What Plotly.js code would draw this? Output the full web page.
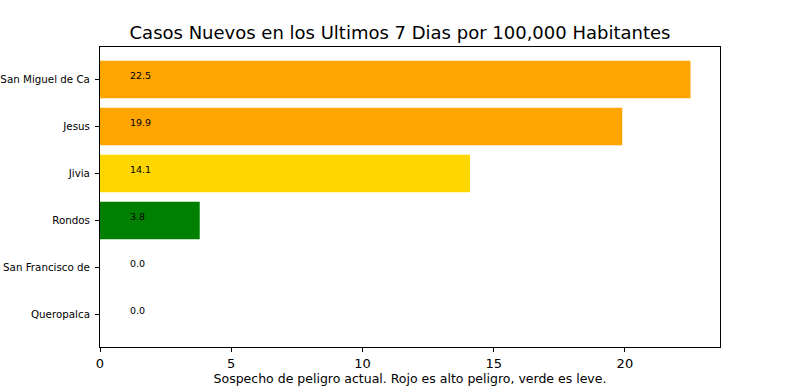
<!DOCTYPE html>
<html>
<head>
<meta charset="utf-8">
<script src="https://cdn.plot.ly/plotly-3.0.1.min.js"></script>
<style>html,body{margin:0;padding:0;background:#fff}#chart{width:800px;height:390px}</style>
</head>
<body>
<div id="chart"></div>
<script>
const categories = ["San Miguel de Ca", "Jesus", "Jivia", "Rondos", "San Francisco de", "Queropalca"];
const values = [22.5, 19.9, 14.1, 3.8, 0.0, 0.0];
const barColors = ["#FFA500", "#FFA500", "#FFD700", "#008000", "#008000", "#008000"];
const xTicks = [0, 5, 10, 15, 20];

const n = categories.length;
const yPos = categories.map((_, i) => n - 1 - i);

const trace = {
  type: "bar",
  orientation: "h",
  x: values,
  y: yPos,
  width: 0.8,
  marker: {color: barColors, line: {width: 0}},
  hoverinfo: "none"
};

const annotations = values.map((v, i) => ({
  x: 1.08, y: yPos[i], xref: "x", yref: "y",
  text: v.toFixed(1), showarrow: false,
  xanchor: "left", yanchor: "middle", yshift: 4,
  font: {family: "DejaVu Sans", size: 9.5, color: "#000"}
}));

const maxV = Math.max(...values);
const layout = {
  width: 800, height: 390,
  margin: {l: 100, r: 80, t: 47, b: 43},
  paper_bgcolor: "#fff", plot_bgcolor: "#fff",
  showlegend: false,
  font: {family: "DejaVu Sans", color: "#000"},
  title: {text: "Casos Nuevos en los Ultimos 7 Dias por 100,000 Habitantes",
          font: {family: "DejaVu Sans", size: 18, color: "#000"},
          x: 0.5, xanchor: "center", y: 0.915, yanchor: "middle"},
  xaxis: {
    range: [0, maxV * 1.05],
    tickvals: xTicks, ticktext: xTicks.map(String),
    ticks: "outside", ticklen: 4, tickwidth: 1, tickcolor: "#000",
    showgrid: false, zeroline: false,
    showline: true, linecolor: "#000", linewidth: 1, mirror: true,
    tickfont: {family: "DejaVu Sans", size: 13},
    title: {text: "Sospecho de peligro actual. Rojo es alto peligro, verde es leve.",
            font: {family: "DejaVu Sans", size: 12.5}, standoff: 4}
  },
  yaxis: {
    range: [-0.69, n - 1 + 0.69],
    tickvals: yPos, ticktext: categories,
    ticks: "outside", ticklen: 4, tickwidth: 1, tickcolor: "#000",
    ticklabelstandoff: 3,
    showgrid: false, zeroline: false,
    showline: true, linecolor: "#000", linewidth: 1, mirror: true,
    tickfont: {family: "DejaVu Sans", size: 10.3}
  },
  annotations: annotations
};

Plotly.newPlot("chart", [trace], layout, {staticPlot: true, displayModeBar: false});
</script>
</body>
</html>
